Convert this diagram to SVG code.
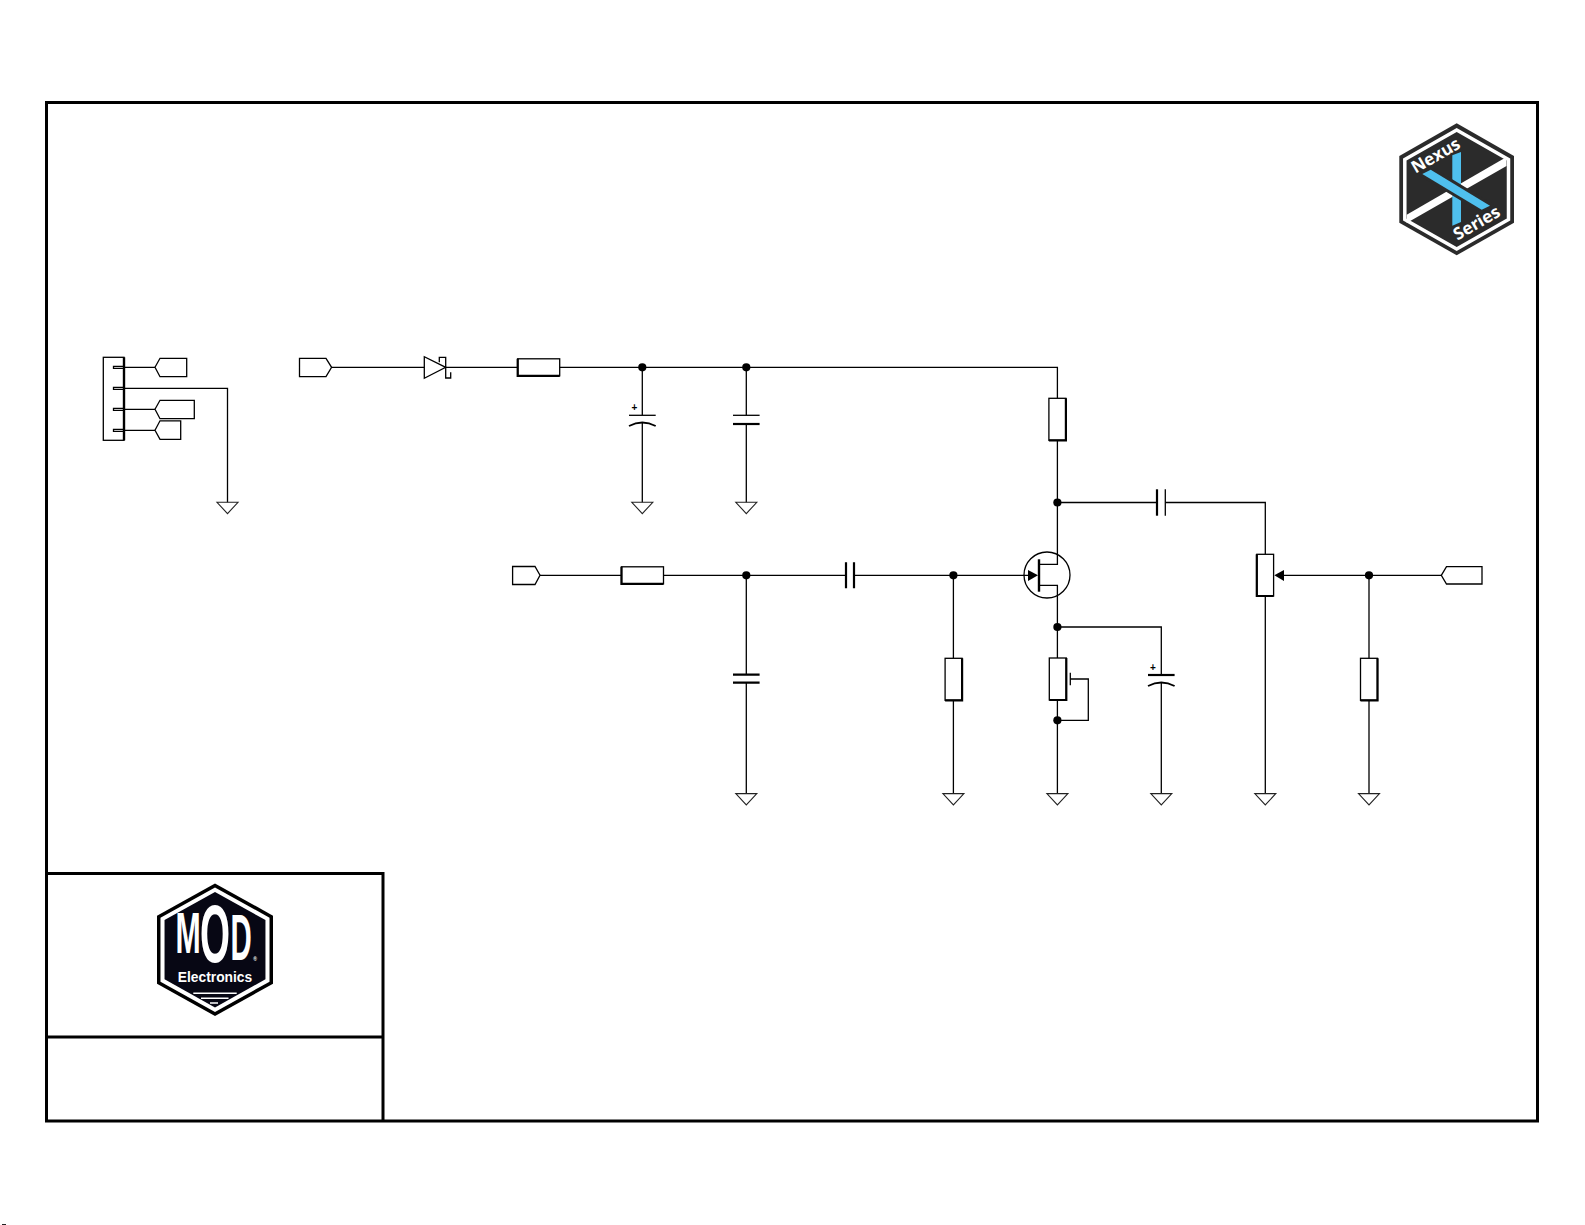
<svg xmlns="http://www.w3.org/2000/svg" width="1585" height="1225" viewBox="0 0 1585 1225">
<defs>
<style>
.w{fill:none;stroke:#000;stroke-width:1.3}
.g{fill:none;stroke:#222;stroke-width:1.1}
.b{fill:#fff;stroke:#000;stroke-width:1.3}
.f{fill:none;stroke:#000;stroke-width:3}
.p{fill:none;stroke:#000;stroke-width:2.2}
.d{fill:#000;stroke:none}
.lbl{font-family:"Liberation Sans",Arial,sans-serif;font-weight:700;fill:#fff;text-anchor:middle}
.nx{font-family:"Open Sans","Liberation Sans",sans-serif;font-weight:700;font-size:17px;fill:#fff;text-anchor:middle}
.plus{font-family:"Liberation Sans",Arial,sans-serif;font-size:10px;font-weight:700;fill:#000;text-anchor:middle}
</style>
<symbol id="gnd" overflow="visible"><path class="g" d="M-10.5 0H10.5L0 11.3Z"/></symbol>
<symbol id="rv" overflow="visible"><rect class="b" x="-8.5" y="0" width="17" height="42"/><path class="p" d="M8.5 0V42H-8.5"/></symbol>
<symbol id="rh" overflow="visible"><rect class="b" x="0" y="-8.5" width="42" height="17"/><path class="p" d="M0 -8.5V8.5H42"/></symbol>
<path id="hex" d="M0 -66.3L58 -34V34L0 66.3L-58 34V-34Z"/>
</defs>
<rect width="1585" height="1225" fill="#fff"/>
<rect x="2" y="1224" width="4" height="1" fill="#222"/>
<g id="frame">
<rect class="f" x="46.5" y="102.5" width="1491" height="1018.5"/>
<path class="f" d="M46.5 873.5H383V1121M46.5 1037H383"/>
</g>
<g id="connectors">
<path class="w" d="M124 367.3H155M124 388.3H227.5V502.3M124 409.3H155M124 430.3H155"/>
<path class="w" d="M331.6 367.3H1057.4V398M642.3 367.3V415M642.3 423V502.3M746.3 367.3V415M746.3 424V502.3"/>
<path class="w" d="M1057.4 441V564.3H1039M1057.4 502.5H1157M1165.3 502.5H1265.3V554M1265.3 596V793.6"/>
<path class="w" d="M540 575.3H621M664 575.3H846M854 575.3H1028M746.3 575.3V674.7M746.3 682.7V793.6M953.4 575.3V658M953.4 700.6V793.6"/>
<path class="w" d="M1039 585.3H1057.4V658M1057.4 700V793.6M1057.4 627H1161.3V675M1161.3 683V793.6M1070.3 679H1088.3V720.3H1057.4"/>
<path class="w" d="M1284 575.3H1441.3M1369 575.3V658M1369 700V793.6"/>
<g class="d"><circle cx="642.3" cy="367.3" r="4.1"/><circle cx="746.3" cy="367.3" r="4.1"/><circle cx="1057.4" cy="502.5" r="4.1"/><circle cx="746.3" cy="575.3" r="4.1"/><circle cx="953.4" cy="575.3" r="4.1"/><circle cx="1057.4" cy="627" r="4.1"/><circle cx="1057.4" cy="720.3" r="4.1"/><circle cx="1369" cy="575.3" r="4.1"/></g>
</g>
<g id="J1">
<rect class="w" x="103.3" y="357.3" width="20.7" height="83"/>
<path d="M124 357.3V440.3" stroke="#000" stroke-width="2.4"/>
<path class="w" d="M113.5 366.3H124V368.3H113.5ZM113.5 387.3H124V389.3H113.5ZM113.5 408.3H124V410.3H113.5ZM113.5 429.3H124V431.3H113.5Z"/>
</g>
<g id="tag-1"><path class="w" d="M155 367.3L160 358.3H186.7V376.7H160Z"/></g>
<g id="tag-2"><path class="w" d="M155 409.3L160 400.3H194.3V418.7H160Z"/></g>
<g id="tag-3"><path class="w" d="M155 430.3L160 420.8H180.7V439.3H160Z"/></g>
<g id="tag-in"><path class="b" d="M299.5 358.3H326L331.6 367.3L326 376.7H299.5Z"/></g>
<g id="tag-sig"><path class="b" d="M512.6 566.5H535L540 575.3L535 584.5H512.6Z"/></g>
<g id="tag-out"><path class="b" d="M1441.3 575.3L1446.5 566.7H1482V584H1446.5Z"/></g>
<g id="D1"><path class="b" d="M424.3 356.7V378.3L445.7 367.3Z"/><path class="w" d="M439.3 362.3V357.3H445.7V378H450.7V372.3"/></g>
<g id="R1"><use href="#rh" x="517.7" y="367.3"/></g>
<g id="C1"><path class="w" d="M629 415.3H655.7"/><path d="M629 426Q642.3 419 655.7 426" fill="none" stroke="#000" stroke-width="1.8"/><text class="plus" x="634.5" y="411">+</text><use href="#gnd" x="642.3" y="502.3"/></g>
<g id="C2"><path class="w" d="M733 415.3H759.6"/><path class="p" d="M733 424H759.6"/><use href="#gnd" x="746.3" y="502.3"/></g>
<g id="GND0"><use href="#gnd" x="227.5" y="502.3"/></g>
<g id="R2"><use href="#rv" x="1057.4" y="398.3"/></g>
<g id="C3"><path class="p" d="M1157 489.3V515.7"/><path class="w" d="M1165.3 489.3V515.7"/></g>
<g id="R3"><use href="#rh" x="621.5" y="575.3"/></g>
<g id="C4"><path class="p" d="M846 562.3V588.3M854 562.3V588.3"/></g>
<g id="C5"><path class="p" d="M733 674.7H759.6M733 682.7H759.6"/><use href="#gnd" x="746.3" y="793.6"/></g>
<g id="R4"><use href="#rv" x="953.6" y="658.3"/><use href="#gnd" x="953.4" y="793.6"/></g>
<g id="Q1"><circle class="w" cx="1047" cy="575" r="23"/><path d="M1039 559.3V591.7" stroke="#000" stroke-width="2.4"/><path class="d" d="M1028 570V581L1038 575.3Z"/></g>
<g id="R5"><use href="#rv" x="1057.8" y="658"/><path class="w" d="M1070.3 672.7V685.3"/><use href="#gnd" x="1057.4" y="793.6"/></g>
<g id="C6"><path class="p" d="M1148 675H1174.6"/><path d="M1148 686Q1161.3 679 1174.6 686" fill="none" stroke="#000" stroke-width="1.8"/><text class="plus" x="1153" y="671">+</text><use href="#gnd" x="1161.3" y="793.6"/></g>
<g id="RV1"><rect class="b" x="1256.8" y="554.3" width="16.8" height="41.7"/><path class="p" d="M1256.8 554.3V596H1273.6"/><path class="d" d="M1274.3 575.3L1284 570V581Z"/><use href="#gnd" x="1265.3" y="793.6"/></g>
<g id="R6"><use href="#rv" x="1369" y="658.3"/><use href="#gnd" x="1369" y="793.6"/></g>
<g id="nexus-logo">
<path d="M1456.7 123.3L1514 156V222.7L1456.7 255.3L1399.3 222.7V156Z" fill="#2b2b2b"/>
<path d="M1456.7 130L1508.5 159.5V219.5L1456.7 249L1404.8 219.5V159.5Z" fill="#2b2b2b" stroke="#fff" stroke-width="3.5"/>
<path d="M1406.7 214.7L1506.5 157V166L1406.7 223Z" fill="#fff"/>
<path d="M1452.3 155.3L1461 152V222L1452.3 225.7Z" fill="#4fc0ee"/>
<path d="M1422.3 174L1430.7 169.7L1490 205.7L1481.7 209.7Z" fill="#2b2b2b" stroke="#2b2b2b" stroke-width="6"/>
<path d="M1422.3 174L1430.7 169.7L1490 205.7L1481.7 209.7Z" fill="#4fc0ee"/>
<text class="nx" transform="translate(1438.6 160.5) rotate(-30)">Nexus</text>
<text class="nx" transform="translate(1479.6 228) rotate(-30)">Series</text>
</g>
<g id="mod-logo">
<use href="#hex" transform="translate(215 949.7)" fill="#000"/>
<use href="#hex" transform="translate(215 949.7) scale(0.94)" fill="#fff"/>
<use href="#hex" transform="translate(215 949.7) scale(0.87)" fill="#070714"/>
<text class="lbl" font-size="42" transform="translate(188 953) scale(0.72,1.36)">M</text>
<text class="lbl" font-size="42" transform="translate(215 961.5) scale(0.92,1.93)">O</text>
<text class="lbl" font-size="42" transform="translate(241 960) scale(0.7,1.55)">D</text>
<text class="lbl" font-size="5" x="255" y="961">®</text>
<text class="lbl" font-size="13.8" x="215" y="982">Electronics</text>
<path d="M193.3 993.3H236.7M201 998.3H228.5M210 1003H218" stroke="#fff" stroke-width="1.6" fill="none"/>
</g>
</svg>
